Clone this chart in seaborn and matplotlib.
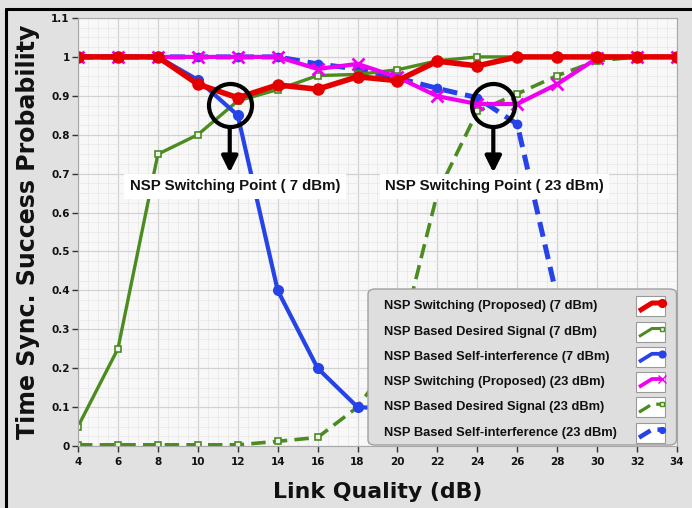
import matplotlib
matplotlib.use("Agg")
import matplotlib.pyplot as plt
import seaborn as sns
import numpy as np
from matplotlib.lines import Line2D
from matplotlib.patches import FancyBboxPatch, Rectangle
from matplotlib.ticker import MultipleLocator

# ---------------- data ----------------
link_quality = [4, 6, 8, 10, 12, 14, 16, 18, 20, 22, 24, 26, 28, 30, 32, 34]
switching_7 = [1, 1, 1, 0.93, 0.895, 0.928, 0.917, 0.949, 0.939, 0.989, 0.977, 1, 1, 1, 1, 1]
desired_7 = [0.05, 0.25, 0.75, 0.80, 0.887, 0.916, 0.952, 0.955, 0.967, 0.99, 1, 1, 1, 1, 1, 1]
selfint_7 = [1, 1, 1, 0.941, 0.85, 0.40, 0.20, 0.10, 0.095, 0.09, 0.085, 0.08, 0.08, 0.08, 0.08, 0.08]
switching_23 = [1, 1, 1, 1, 1, 1, 0.969, 0.982, 0.948, 0.899, 0.879, 0.879, 0.93, 0.997, 1, 1]
desired_23 = [0.003, 0.003, 0.003, 0.003, 0.003, 0.012, 0.022, 0.10, 0.24, 0.65, 0.86, 0.905, 0.952, 0.99, 1, 1]
selfint_23 = [1, 1, 1, 1, 1, 1, 0.982, 0.969, 0.946, 0.919, 0.895, 0.827, 0.38, 0.12, 0.06, 0.05]

labels = [
    "NSP Switching (Proposed) (7 dBm)",
    "NSP Based Desired Signal (7 dBm)",
    "NSP Based Self-interference (7 dBm)",
    "NSP Switching (Proposed) (23 dBm)",
    "NSP Based Desired Signal (23 dBm)",
    "NSP Based Self-interference (23 dBm)",
]
x_ticks = list(range(4, 35, 2))
y_ticks = [0, 0.1, 0.2, 0.3, 0.4, 0.5, 0.6, 0.7, 0.8, 0.9, 1.0, 1.1]
y_tick_labels = ["0", "0.1", "0.2", "0.3", "0.4", "0.5", "0.6", "0.7", "0.8", "0.9", "1", "1.1"]

# annotation anchors (data coords)
switch_points = [(11.6, 0.876, 11.86, "NSP Switching Point ( 7 dBm)"),
                 (24.8, 0.876, 24.86, "NSP Switching Point ( 23 dBm)")]

# ---------------- style ----------------
sns.set_theme(style="white")
plt.rcParams["font.family"] = ["DejaVu Sans"]

RED = "#e50000"
GREEN = "#4b8b1f"
BLUE = "#2643e8"
MAG = "#f000f0"
BG = "#e1e1e1"

W, H = 692, 508
fig = plt.figure(figsize=(W / 100, H / 100), dpi=100, facecolor=BG)
AX_L, AX_R, AX_T, AX_B = 78, 677, 18, 446
ax = fig.add_axes([AX_L / W, (H - AX_B) / H, (AX_R - AX_L) / W, (AX_B - AX_T) / H])
ax.set_facecolor("#f8f8f8")

# series styles keyed by label
series = {
    labels[4]: dict(y=desired_23, color=GREEN, lw=2.6, ls=(0, (4, 2)), marker="s", ms=5, mfc="#f0f0f0", mew=1.2, z=2.0),
    labels[5]: dict(y=selfint_23, color=BLUE, lw=3.6, ls=(0, (3, 1.6)), marker="o", ms=6, mfc=BLUE, mew=1, z=2.1),
    labels[1]: dict(y=desired_7, color=GREEN, lw=2.4, ls="-", marker="s", ms=5, mfc="#f0f0f0", mew=1.2, z=2.2),
    labels[2]: dict(y=selfint_7, color=BLUE, lw=3.0, ls="-", marker="o", ms=7, mfc=BLUE, mew=1, z=2.3),
    labels[3]: dict(y=switching_23, color=MAG, lw=3.0, ls="-", marker="x", ms=8, mfc=MAG, mew=2, z=2.4),
    labels[0]: dict(y=switching_7, color=RED, lw=4.0, ls="-", marker="o", ms=8, mfc=RED, mew=1, z=2.5),
}
for lab, st in series.items():
    sns.lineplot(x=link_quality, y=st["y"], ax=ax, color=st["color"], linewidth=st["lw"],
                 linestyle=st["ls"], marker=st["marker"], markersize=st["ms"],
                 markerfacecolor=st["mfc"], markeredgecolor=st["color"], markeredgewidth=st["mew"],
                 zorder=st["z"], legend=False)

ax.set_xlim(4, 34)
ax.set_ylim(0, 1.1)
ax.set_xticks(x_ticks)
ax.set_xticklabels([str(v) for v in x_ticks])
ax.set_yticks(y_ticks)
ax.set_yticklabels(y_tick_labels)
ax.xaxis.set_minor_locator(MultipleLocator(0.5))
ax.yaxis.set_minor_locator(MultipleLocator(0.025))
ax.grid(which="major", color="#d2d2d2", lw=0.9)
ax.grid(which="minor", color="#e9e9e9", lw=0.6)
ax.set_axisbelow(True)
ax.tick_params(axis="both", which="major", direction="out", length=4, width=1, color="#333333",
               labelsize=7.5, bottom=True, left=True)
ax.tick_params(axis="x", which="major", pad=4)
ax.tick_params(axis="y", which="major", pad=2)
ax.tick_params(axis="both", which="minor", length=0)
for lab in ax.get_xticklabels() + ax.get_yticklabels():
    lab.set_fontweight("bold")
    lab.set_color("#111111")
for sp in ax.spines.values():
    sp.set_color("#a8a8a8")
    sp.set_linewidth(0.8)

ax.set_xlabel("Link Quality (dB)", fontsize=15.8, fontweight="bold", labelpad=11, color="#111111")
ax.set_ylabel("Time Sync. Success Probability", fontsize=17, fontweight="bold", labelpad=8, color="#111111")

# switching-point annotations
for cx, cy, tx, txt in switch_points:
    ax.plot([cx], [cy], marker="o", markersize=31, markerfacecolor="none",
            markeredgecolor="black", markeredgewidth=3, zorder=4)
    ax.annotate("", xy=(cx, 0.703), xytext=(cx, 0.82),
                arrowprops=dict(arrowstyle="-|>", lw=3, color="black", mutation_scale=24,
                                shrinkA=0, shrinkB=0), zorder=4)
    ax.text(tx, 0.667, txt, ha="center", va="center", fontsize=10.8, fontweight="bold",
            family=["Liberation Sans", "DejaVu Sans"], color="#111111",
            bbox=dict(facecolor="white", edgecolor="none", pad=4), zorder=4)

# ---------------- legend (LabVIEW-style, text left, icon right) ----------------
def px2ax(px, py):
    return (px - AX_L) / (AX_R - AX_L), (AX_B - py) / (AX_B - AX_T)

lx0, ly0 = px2ax(368, 445)
lx1, ly1 = px2ax(676.5, 289)
box = FancyBboxPatch((lx0, ly0), lx1 - lx0, ly1 - ly0, transform=ax.transAxes,
                     boxstyle="round,pad=0,rounding_size=0.012", facecolor="#dedede",
                     edgecolor="#a0a0a0", lw=1.0, zorder=6, clip_on=False)
ax.add_patch(box)
row_px = [306, 331.5, 356.8, 382, 407.2, 432.6]
for lab, py in zip(labels, row_px):
    tx, ty = px2ax(384, py)
    ax.text(tx, ty, lab, transform=ax.transAxes, ha="left", va="center", fontsize=9.3,
            fontweight="bold", family=["Liberation Sans", "DejaVu Sans"], color="#111111",
            zorder=7, clip_on=False)
    bx0, by0 = px2ax(636, py + 10)
    bx1, by1 = px2ax(665, py - 10)
    ax.add_patch(Rectangle((bx0, by0), bx1 - bx0, by1 - by0, transform=ax.transAxes,
                           facecolor="white", edgecolor="#9a9a9a", lw=0.8, zorder=7, clip_on=False))
    st = series[lab]
    p1 = px2ax(639, py + 5)
    p2 = px2ax(652, py - 3)
    p3 = px2ax(662, py - 3)
    ax.add_line(Line2D([p1[0], p2[0], p3[0]], [p1[1], p2[1], p3[1]], transform=ax.transAxes,
                       color=st["color"], lw=st["lw"] * 0.9, ls=st["ls"], zorder=8, clip_on=False,
                       solid_capstyle="butt", dash_capstyle="butt"))
    ax.add_line(Line2D([p3[0]], [p3[1]], transform=ax.transAxes, marker=st["marker"],
                       markersize=st["ms"] * 0.7, color=st["color"], markerfacecolor=st["mfc"],
                       markeredgecolor=st["color"], zorder=8, clip_on=False))

# outer black frame
fig.add_artist(Line2D([6 / W, 6 / W], [0, 1 - 9 / H], color="black", lw=2.2))
fig.add_artist(Line2D([6 / W, 1], [1 - 9 / H, 1 - 9 / H], color="black", lw=2.2))

fig.savefig("out.png", dpi=100, facecolor=BG)
